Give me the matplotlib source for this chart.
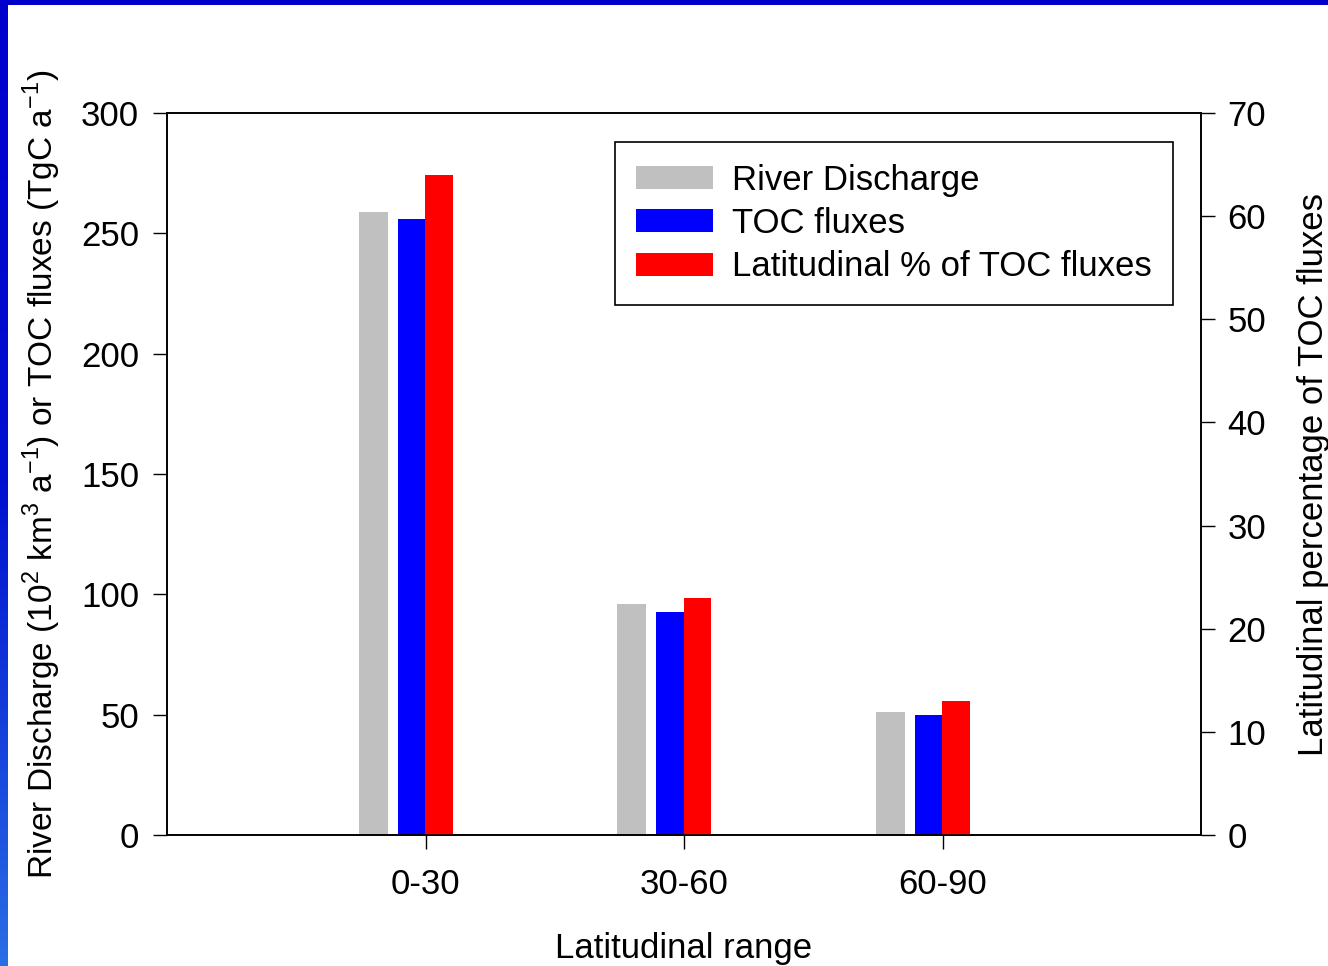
import matplotlib.pyplot as plt
import numpy as np
from matplotlib.patches import Rectangle
from matplotlib.colors import LinearSegmentedColormap

plt.rcParams['font.family'] = ['Liberation Sans', 'DejaVu Sans']
plt.rcParams['mathtext.fontset'] = 'custom'
plt.rcParams['mathtext.rm'] = 'Liberation Sans'

ranges = ["0-30", "30-60", "60-90"]
discharge = [259, 96, 51]        # 10^2 km3 a-1
toc_flux = [256, 92.5, 50]       # TgC a-1
toc_pct = [64, 23, 13]           # % of total TOC flux

FS = 25

fig = plt.figure(figsize=(13.28, 9.66), dpi=100)
fig.patch.set_facecolor('#0000cc')

# blue frame: white page inside, gradient strip on the left
fig.patches.append(Rectangle((8 / 1328, 0), 1, 1 - 5 / 966, transform=fig.transFigure,
                             facecolor='white', edgecolor='none', zorder=-10))
strip = fig.add_axes([0, 0, 8 / 1328, 1])
grad = np.linspace(0, 1, 256).reshape(-1, 1)
strip.imshow(grad, aspect='auto', origin='upper',
             cmap=LinearSegmentedColormap.from_list('frame', ['#0000cc', '#0010d0', '#2a6ee6']))
strip.axis('off')

ax = fig.add_axes([167 / 1328, 1 - 835 / 966, (1201 - 167) / 1328, (835 - 113) / 966])
ax2 = ax.twinx()

x = np.arange(1, len(ranges) + 1)
b1 = ax.bar(x - 0.203, discharge, width=0.112, color='#c0c0c0')
b2 = ax.bar(x - 0.054, toc_flux, width=0.108, color='#0000ff')
b3 = ax2.bar(x + 0.052, toc_pct, width=0.106, color='#ff0000')

ax.set_xlim(0, 4)
ax.set_ylim(0, 300)
ax2.set_ylim(0, 70)
ax.set_xticks(x)
ax.set_xticklabels(ranges)
ax.set_yticks(np.arange(0, 301, 50))
ax2.set_yticks(np.arange(0, 71, 10))

for a in (ax, ax2):
    a.tick_params(direction='out', length=10, width=1, labelsize=FS)
    for s in a.spines.values():
        s.set_linewidth(1.2)
ax.tick_params(axis='y', pad=10)
ax.tick_params(axis='x', pad=14)
ax2.tick_params(axis='y', pad=9)

ax.set_xlabel("Latitudinal range", fontsize=FS, labelpad=22)
ax.set_ylabel("River Discharge (10$^2$ km$^3$ a$^{-1}$) or TOC fluxes (TgC a$^{-1}$)",
              fontsize=24, labelpad=13)
ax2.set_ylabel("Latitudinal percentage of TOC fluxes", fontsize=FS, labelpad=22)

leg = ax2.legend([b1, b2, b3], ["River Discharge", "TOC fluxes", "Latitudinal % of TOC fluxes"],
                 loc='upper right', bbox_to_anchor=(1 - 28 / 1034, 1 - 29 / 722),
                 fontsize=FS, fancybox=False, edgecolor='black', framealpha=1,
                 handlelength=2.2, handleheight=0.63, labelspacing=0.3, borderpad=0.62,
                 handletextpad=0.55, borderaxespad=0)
leg.get_frame().set_linewidth(1.2)

fig.savefig("out.png", dpi=100, facecolor=fig.get_facecolor())
